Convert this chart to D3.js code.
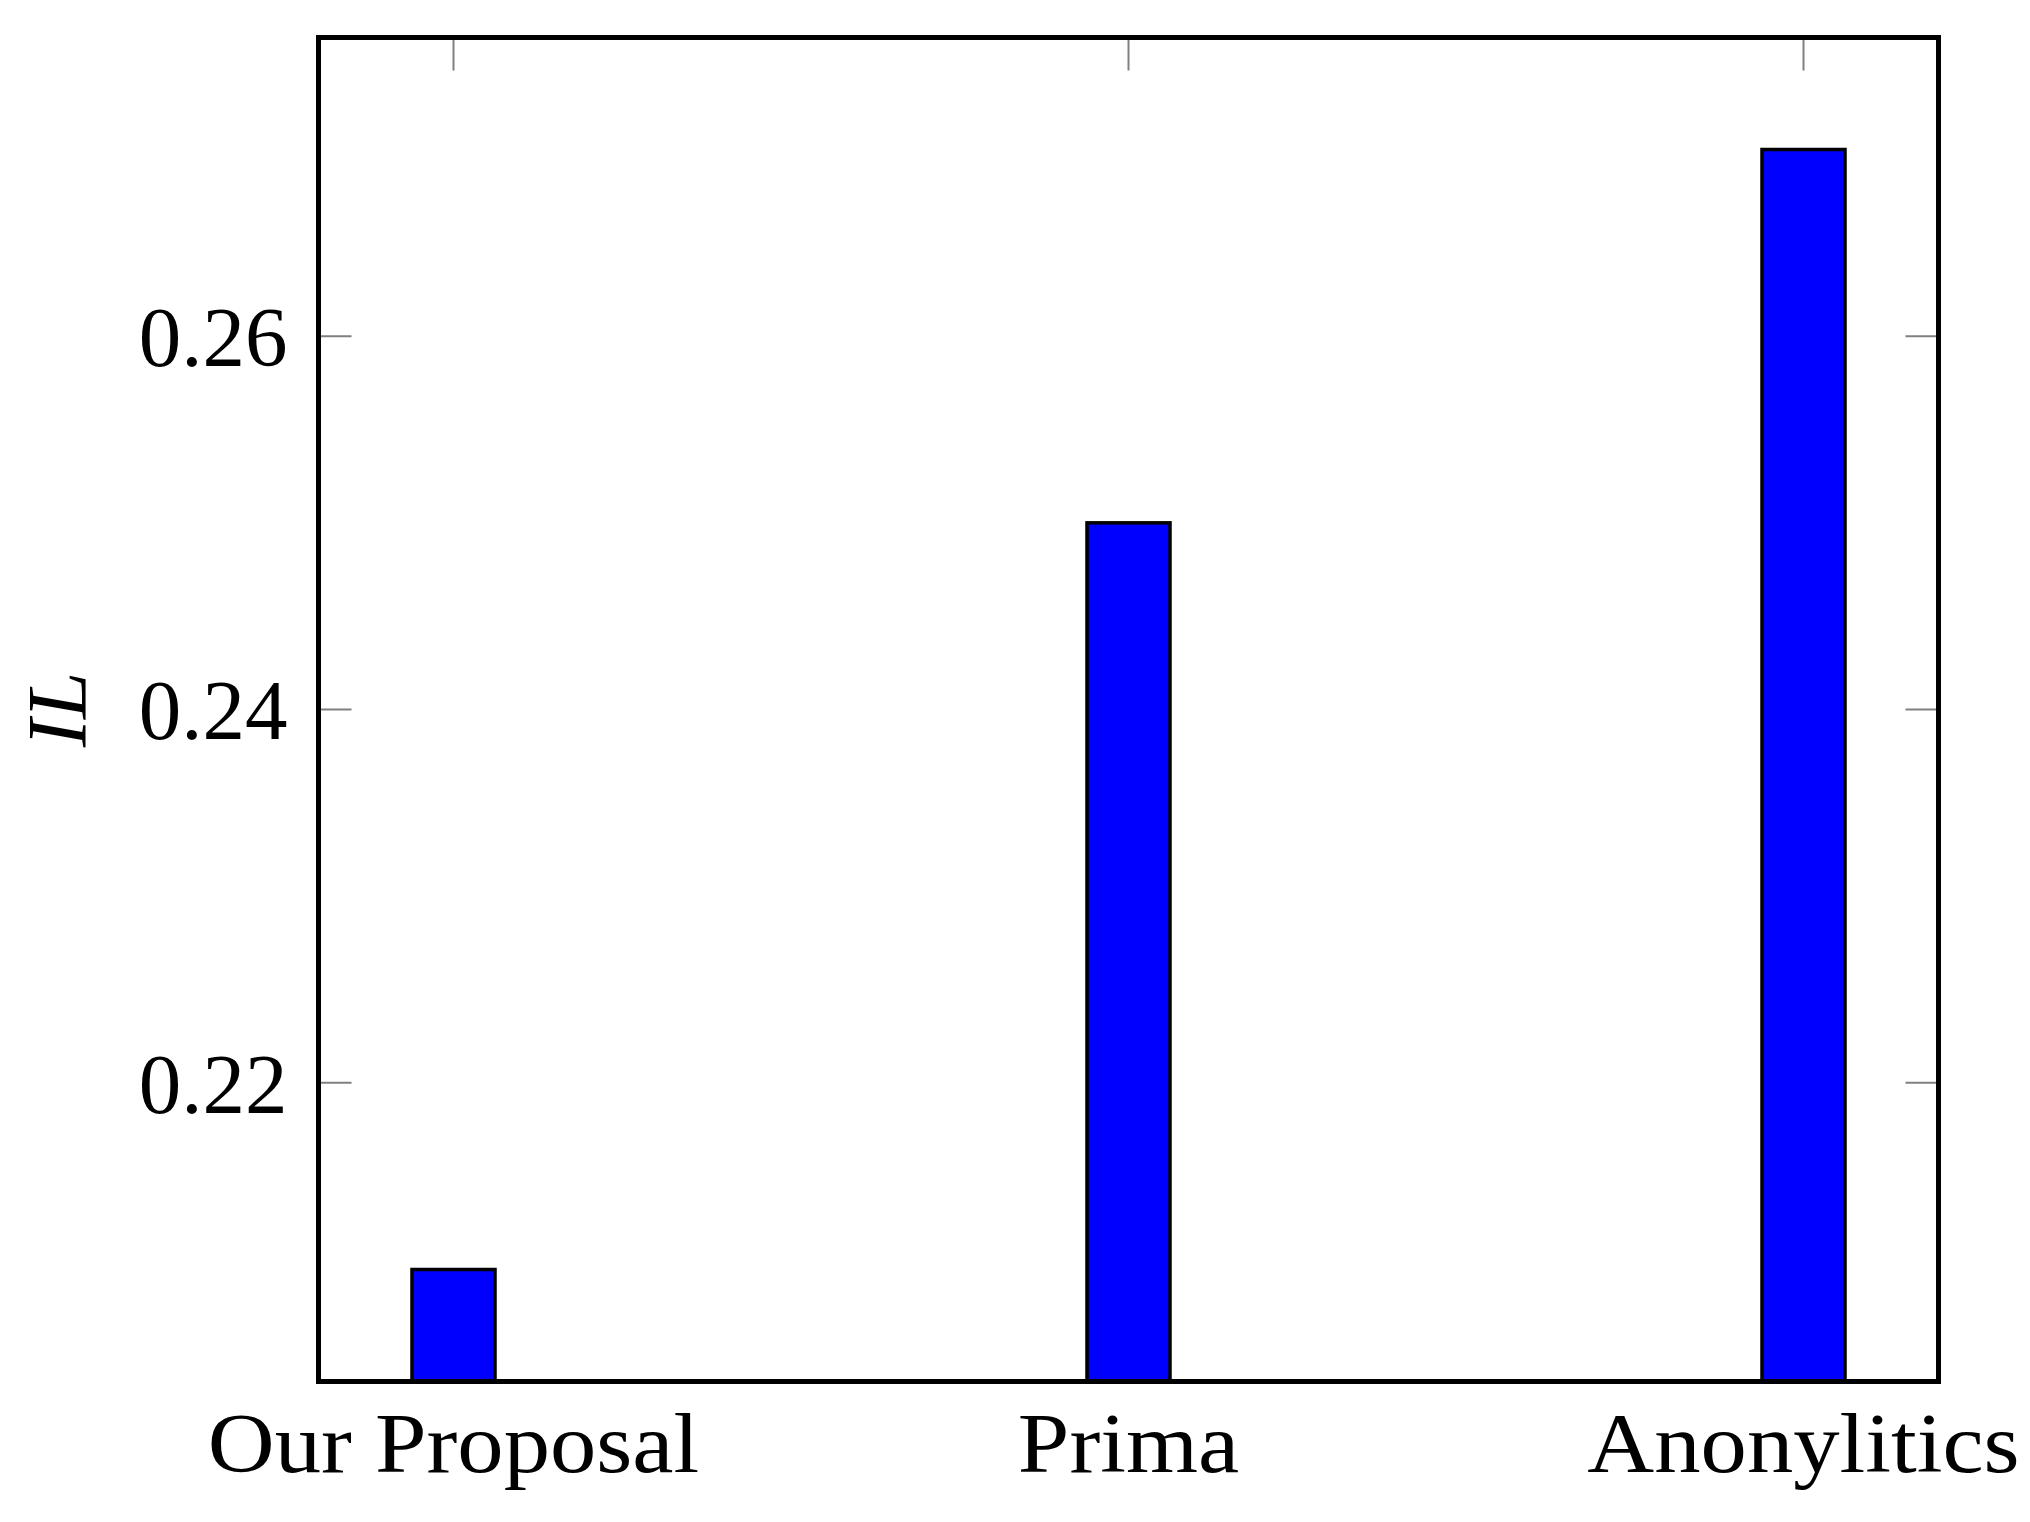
<!DOCTYPE html>
<html>
<head>
<meta charset="utf-8">
<script src="https://cdn.jsdelivr.net/npm/d3@7"></script>
<style>
  body { margin: 0; background: #fff; }
  text { font-family: "Liberation Serif", "DejaVu Serif", serif; fill: #000; }
</style>
</head>
<body>
<div id="chart"></div>
<script>
// data
const categories = ["Our Proposal", "Prima", "Anonylitics"];
const ilValues = [0.21, 0.25, 0.27];
const yTicks = [0.22, 0.24, 0.26];

const width = 2030, height = 1522;
const margin = { top: 37.5, right: 91.5, bottom: 140.5, left: 318.5 };
const innerW = width - margin.left - margin.right;
const innerH = height - margin.top - margin.bottom;

const svg = d3.select("#chart")
    .append("svg")
    .attr("width", width)
    .attr("height", height);

const g = svg.append("g")
    .attr("transform", `translate(${margin.left},${margin.top})`);

const x = d3.scalePoint()
    .domain(categories)
    .range([0, innerW])
    .padding(0.2);

const y = d3.scaleLinear()
    .domain([0.204, 0.276])
    .range([innerH, 0]);

const tickLen = 33;
const tickColor = "#808080";

// inward ticks (left, right, top, bottom)
const tickG = g.append("g").attr("stroke", tickColor).attr("stroke-width", 2);
yTicks.forEach(t => {
    tickG.append("line").attr("x1", 0).attr("x2", tickLen).attr("y1", y(t)).attr("y2", y(t));
    tickG.append("line").attr("x1", innerW - tickLen).attr("x2", innerW).attr("y1", y(t)).attr("y2", y(t));
});
categories.forEach(c => {
    tickG.append("line").attr("x1", x(c)).attr("x2", x(c)).attr("y1", 0).attr("y2", tickLen);
    tickG.append("line").attr("x1", x(c)).attr("x2", x(c)).attr("y1", innerH - tickLen).attr("y2", innerH);
});

// bars
const barW = 83;
g.selectAll("rect.bar")
    .data(categories)
    .enter()
    .append("rect")
    .attr("class", "bar")
    .attr("x", d => x(d) - barW / 2)
    .attr("y", (d, i) => y(ilValues[i]))
    .attr("width", barW)
    .attr("height", (d, i) => innerH - y(ilValues[i]))
    .attr("fill", "#0000ff")
    .attr("stroke", "#000")
    .attr("stroke-width", 3.5);

// frame
g.append("rect")
    .attr("x", 0).attr("y", 0)
    .attr("width", innerW).attr("height", innerH)
    .attr("fill", "none")
    .attr("stroke", "#000")
    .attr("stroke-width", 5);

// y tick labels
g.selectAll("text.ytick")
    .data(yTicks)
    .enter()
    .append("text")
    .attr("class", "ytick")
    .attr("x", -31)
    .attr("y", d => y(d))
    .attr("dy", "0.35em")
    .attr("text-anchor", "end")
    .style("font-size", "85px")
    .text(d => d.toFixed(2));

// x tick labels (stretched a little to get closer to the Palatino widths)
g.selectAll("text.xtick")
    .data(categories)
    .enter()
    .append("text")
    .attr("class", "xtick")
    .attr("transform", d => `translate(${x(d)},${innerH + 90}) scale(1.09,1)`)
    .attr("text-anchor", "middle")
    .style("font-size", "85px")
    .text(d => d);

// y axis label
svg.append("text")
    .attr("transform", `translate(86,${margin.top + innerH / 2}) rotate(-90)`)
    .attr("text-anchor", "middle")
    .style("font-size", "85px")
    .style("font-style", "italic")
    .text("IL");
</script>
</body>
</html>
